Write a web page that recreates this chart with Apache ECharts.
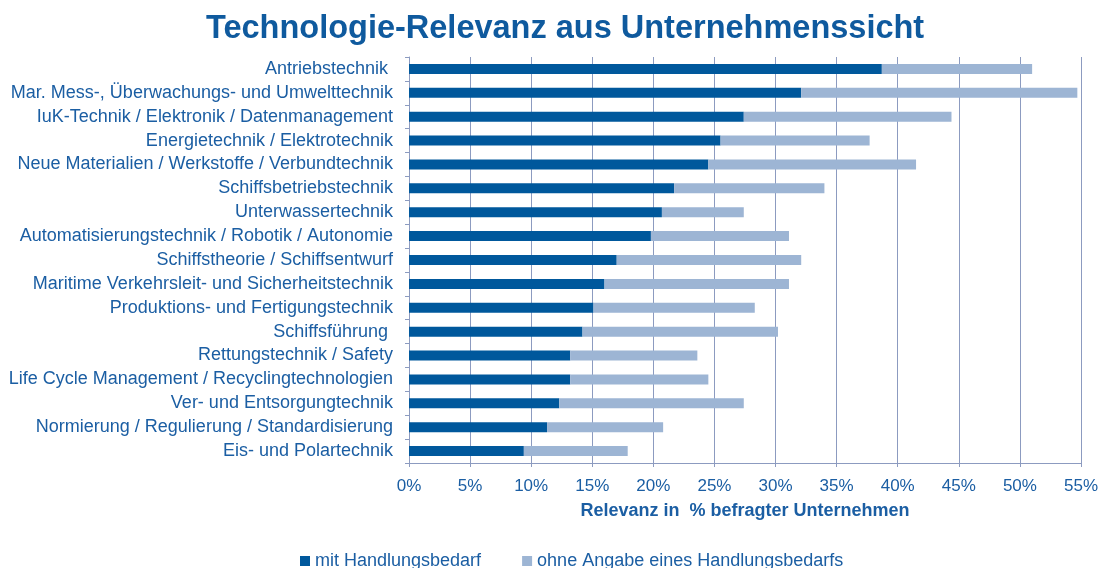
<!DOCTYPE html>
<html>
<head>
<meta charset="utf-8">
<script src="https://cdn.jsdelivr.net/npm/echarts@6/dist/echarts.min.js"></script>
<style>
    html, body { margin: 0; padding: 0; background: #fff; }
    #chart { width: 1102px; height: 568px; }
</style>
</head>
<body>
<div id="chart"></div>
<script>
// Kategorien (von oben nach unten)
const categories = [
    "Antriebstechnik ",
    "Mar. Mess-, Überwachungs- und Umwelttechnik",
    "IuK-Technik / Elektronik / Datenmanagement",
    "Energietechnik / Elektrotechnik",
    "Neue Materialien / Werkstoffe / Verbundtechnik",
    "Schiffsbetriebstechnik",
    "Unterwassertechnik",
    "Automatisierungstechnik / Robotik / Autonomie",
    "Schiffstheorie / Schiffsentwurf",
    "Maritime Verkehrsleit- und Sicherheitstechnik",
    "Produktions- und Fertigungstechnik",
    "Schiffsführung ",
    "Rettungstechnik / Safety",
    "Life Cycle Management / Recyclingtechnologien",
    "Ver- und Entsorgungtechnik",
    "Normierung / Regulierung / Standardisierung",
    "Eis- und Polartechnik"
];
// mit Handlungsbedarf (%)
const mitHandlungsbedarf = [38.7, 32.1, 27.4, 25.5, 24.5, 21.7, 20.7, 19.8, 17.0, 16.0, 15.1, 14.2, 13.2, 13.2, 12.3, 11.3, 9.4];
// ohne Angabe eines Handlungsbedarfs (%)
const ohneAngabe = [12.3, 22.6, 17.0, 12.2, 17.0, 12.3, 6.7, 11.3, 15.1, 15.1, 13.2, 16.0, 10.4, 11.3, 15.1, 9.5, 8.5];
// Achsenbeschriftung
const xTicks = { min: 0, max: 55, interval: 5 };

const textColor = "#1b5ea3";
const lineColor = "#8c9bc0";
const font = "Liberation Sans, Arial, sans-serif";

const chart = echarts.init(document.getElementById("chart"));
chart.setOption({
    animation: false,
    textStyle: { fontFamily: font },
    title: {
        text: "Technologie-Relevanz aus Unternehmenssicht",
        left: 206,
        top: 13,
        padding: 0,
        textStyle: { fontSize: 32.5, fontWeight: "bold", color: "#0f5a9e", fontFamily: font }
    },
    legend: {
        top: 552,
        left: 300,
        padding: 0,
        itemWidth: 10,
        itemHeight: 10,
        itemGap: 41,
        icon: "rect",
        textStyle: { fontSize: 18, color: textColor, fontFamily: font },
        data: ["mit Handlungsbedarf", "ohne Angabe eines Handlungsbedarfs"]
    },
    grid: {
        left: 409,
        right: 21,
        top: 57,
        height: 406
    },
    xAxis: {
        type: "value",
        min: xTicks.min,
        max: xTicks.max,
        interval: xTicks.interval,
        name: "Relevanz in  % befragter Unternehmen",
        nameLocation: "middle",
        nameGap: 39,
        nameTextStyle: { fontSize: 18, fontWeight: "bold", color: textColor, fontFamily: font },
        axisLine: { show: true, lineStyle: { color: lineColor } },
        axisTick: { show: true, length: 4, lineStyle: { color: lineColor } },
        axisLabel: { fontSize: 17, color: textColor, margin: 15, formatter: v => v + "%" },
        splitLine: { show: true, lineStyle: { color: lineColor, width: 1 } }
    },
    yAxis: {
        type: "category",
        inverse: true,
        data: categories,
        axisLine: { show: true, lineStyle: { color: lineColor } },
        axisTick: { show: true, length: 4, lineStyle: { color: lineColor } },
        axisLabel: { fontSize: 18, color: textColor, margin: 16 }
    },
    series: [
        {
            name: "mit Handlungsbedarf",
            type: "bar",
            stack: "total",
            barWidth: 10,
            itemStyle: { color: "#00589c" },
            data: mitHandlungsbedarf
        },
        {
            name: "ohne Angabe eines Handlungsbedarfs",
            type: "bar",
            stack: "total",
            barWidth: 10,
            itemStyle: { color: "#9db5d4" },
            data: ohneAngabe
        }
    ]
});
</script>
</body>
</html>
